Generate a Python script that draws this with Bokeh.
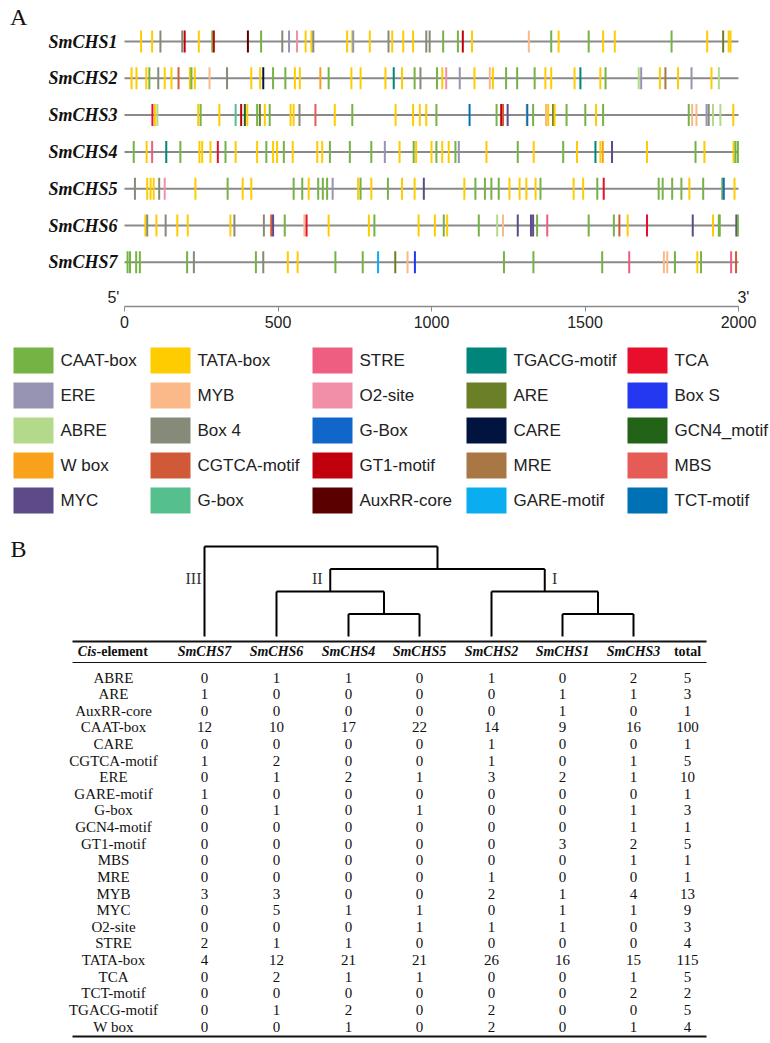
from bokeh.plotting import figure
from bokeh.layouts import column
from bokeh.models import Range1d, FixedTicker, ColumnDataSource
from bokeh.core.properties import value
from bokeh.embed import file_html
from bokeh.resources import INLINE

# ---------------- data ----------------
genes = ["SmCHS1", "SmCHS2", "SmCHS3", "SmCHS4", "SmCHS5", "SmCHS6", "SmCHS7"]
gene_len = [2000, 2000, 2000, 2000, 2000, 2000, 2000]
axis_ticks = [0, 500, 1000, 1500, 2000]

legend_names = ["CAAT-box", "ERE", "ABRE", "W box", "MYC",
                "TATA-box", "MYB", "Box 4", "CGTCA-motif", "G-box",
                "STRE", "O2-site", "G-Box", "GT1-motif", "AuxRR-core",
                "TGACG-motif", "ARE", "CARE", "MRE", "GARE-motif",
                "TCA", "Box S", "GCN4_motif", "MBS", "TCT-motif"]
legend_colors = ["#74B344", "#9694B2", "#B3D98A", "#F9A11B", "#5D4A88",
                 "#FFCC00", "#FBB98A", "#858B78", "#D05A37", "#56BF8E",
                 "#EE5E81", "#F18FA8", "#1166C9", "#C1000E", "#5A0000",
                 "#00857B", "#6B7F26", "#01133F", "#A87744", "#0AADEF",
                 "#E80F2D", "#2338F0", "#236317", "#E55B56", "#0071B5"]

# element codes used in the site lists
CA, ER, AB, WB, MC = "CAAT-box", "ERE", "ABRE", "W box", "MYC"
TA, MB, B4, CG, Gb = "TATA-box", "MYB", "Box 4", "CGTCA-motif", "G-box"
ST, O2, GB, G1, AX = "STRE", "O2-site", "G-Box", "GT1-motif", "AuxRR-core"
TG, AR, CR, MR, GA = "TGACG-motif", "ARE", "CARE", "MRE", "GARE-motif"
TC, BS, GC, MS, TT = "TCA", "Box S", "GCN4_motif", "MBS", "TCT-motif"

chs1_pos = [54, 90, 117, 188, 196, 242, 286, 291, 402, 445, 514, 536, 562, 590, 609, 615, 725, 742, 745, 799,
            860, 872, 908, 940, 983, 994, 1038, 1086, 1102, 1132, 1317, 1390, 1414, 1512, 1559, 1597, 1782,
            1898, 1950, 1968, 1974]
chs1_type = [TA, TA, B4, B4, G1, TA, CA, G1, AX, CA, B4, ER, O2, TA, TA, B4, TA, TA, ER, TA,
             B4, TA, TA, TA, B4, B4, CA, CA, G1, TA, MB, CA, TA, CA, TA, TA, CA, TA, AR, TA, TA]

chs2_pos = [23, 39, 71, 81, 110, 131, 153, 176, 213, 218, 229, 277, 334, 413, 442, 452, 484, 524, 555, 571,
            638, 665, 739, 769, 850, 877, 904, 945, 964, 1018, 1035, 1048, 1092, 1140, 1190, 1200, 1243, 1279,
            1336, 1371, 1390, 1466, 1485, 1550, 1567, 1675, 1683, 1744, 1762, 1803, 1847, 1912, 1936]
chs2_type = [TA, TA, TA, CA, B4, TA, TA, CG, TA, CA, TA, MB, B4, TA, TA, CR, CA, CA, TA, TA,
             WB, CA, TA, TA, TA, TG, TA, CA, B4, CA, TA, O2, ER, TA, MB, TA, CA, CA,
             CA, TA, TA, TA, TG, TA, CA, AB, ER, TA, MR, TA, ER, TA, AB]

chs3_pos = [91, 99, 107, 240, 248, 309, 362, 380, 392, 400, 432, 441, 457, 473, 541, 551, 570, 622, 685, 742,
            883, 940, 962, 983, 1016, 1124, 1212, 1227, 1233, 1248, 1310, 1312, 1331, 1373, 1380, 1396, 1401,
            1440, 1501, 1536, 1559, 1838, 1849, 1863, 1896, 1903, 1917, 1941, 1983]
chs3_type = [TC, TA, AB, TA, CA, TA, Gb, G1, GC, TA, CA, AR, TA, CA, TA, TA, B4, MS, TA, CA,
             TA, TA, TA, TA, CA, TT, CA, G1, CG, MC, MB, TT, CA, MB, TA, AR, TA,
             CA, CA, TA, CA, CA, MB, MB, ER, B4, AB, AB, TA]

chs4_pos = [30, 72, 90, 136, 182, 244, 253, 280, 304, 329, 362, 432, 462, 484, 497, 519, 548, 628, 644, 669,
            734, 804, 848, 896, 942, 950, 1000, 1016, 1035, 1056, 1078, 1089, 1179, 1281, 1333, 1429, 1474,
            1534, 1550, 1558, 1588, 1702, 1860, 1889, 1984, 1990, 1998]
chs4_type = [CA, TA, ST, TG, CA, TA, TA, TA, TC, CA, TA, TA, CA, TA, TA, CA, TA, TA, TA, CA,
             CA, CA, ER, TA, CA, TA, TA, CA, TA, TA, CA, ER, TA, CA, TA, CA, TA,
             TG, TA, WB, MC, TA, CA, TA, TA, CA, CA]

chs5_pos = [34, 74, 85, 95, 113, 131, 231, 336, 385, 413, 551, 579, 600, 631, 646, 660, 678, 761, 769, 804,
            858, 904, 945, 975, 1107, 1143, 1174, 1195, 1219, 1254, 1287, 1309, 1339, 1355, 1463, 1494, 1540,
            1561, 1740, 1753, 1784, 1814, 1840, 1885, 1947, 1952, 1987]
chs5_type = [B4, TA, TA, TA, B4, O2, TA, CA, TA, TA, CA, CA, TA, CA, CA, CA, ER, TA, CA, TA,
             CA, TA, TA, MC, TA, CA, CA, CA, CA, TA, TA, TA, TA, CA, TA, TA, CA,
             TC, CA, CA, CA, CA, TA, CA, CA, GB, TA]

chs6_pos = [68, 74, 104, 134, 172, 206, 345, 358, 454, 478, 484, 522, 586, 593, 665, 796, 814, 958, 1011, 1040,
            1051, 1154, 1214, 1233, 1281, 1324, 1331, 1344, 1377, 1512, 1594, 1612, 1639, 1702, 1851, 1917,
            1936, 1939, 1993, 1998]
chs6_type = [TA, B4, TA, B4, TA, TA, TA, B4, B4, CG, MC, CA, MB, TC, TA, TA, CA, TA, TA, CA,
             TA, CA, AB, MB, MC, MC, MC, CA, ST, CA, CA, CG, TA, TC, MC, TA,
             CA, CA, MC, CA]

chs7_pos = [10, 18, 38, 50, 204, 226, 428, 452, 532, 564, 687, 776, 826, 882, 922, 946, 1236, 1332, 1556, 1644,
            1757, 1768, 1793, 1866, 1878, 1976, 1992]
chs7_type = [CA, CA, CA, CA, CA, B4, CA, B4, TA, TA, CA, CA, GA, AR, MB, BS, CA, CA, CA, ST,
             MB, MB, CA, TA, CA, ST, CG]

# table (panel B)
tbl_rows = ["ABRE", "ARE", "AuxRR-core", "CAAT-box", "CARE", "CGTCA-motif", "ERE", "GARE-motif", "G-box",
            "GCN4-motif", "GT1-motif", "MBS", "MRE", "MYB", "MYC", "O2-site", "STRE", "TATA-box", "TCA",
            "TCT-motif", "TGACG-motif", "W box"]
tbl_cols = ["SmCHS7", "SmCHS6", "SmCHS4", "SmCHS5", "SmCHS2", "SmCHS1", "SmCHS3"]
tbl_chs7 = [0, 1, 0, 12, 0, 1, 0, 1, 0, 0, 0, 0, 0, 3, 0, 0, 2, 4, 0, 0, 0, 0]
tbl_chs6 = [1, 0, 0, 10, 0, 2, 1, 0, 1, 0, 0, 0, 0, 3, 5, 0, 1, 12, 2, 0, 1, 0]
tbl_chs4 = [1, 0, 0, 17, 0, 0, 2, 0, 0, 0, 0, 0, 0, 0, 1, 0, 1, 21, 1, 0, 2, 1]
tbl_chs5 = [0, 0, 0, 22, 0, 0, 1, 0, 1, 0, 0, 0, 0, 0, 1, 1, 0, 21, 1, 0, 0, 0]
tbl_chs2 = [1, 0, 0, 14, 1, 1, 3, 0, 0, 0, 0, 0, 1, 2, 0, 1, 0, 26, 0, 0, 2, 2]
tbl_chs1 = [0, 1, 1, 9, 0, 0, 2, 0, 0, 0, 3, 0, 0, 1, 1, 1, 0, 16, 0, 0, 0, 0]
tbl_chs3 = [2, 1, 0, 16, 0, 1, 1, 0, 1, 1, 2, 1, 0, 4, 1, 0, 0, 15, 1, 2, 0, 1]
tbl_total = [5, 3, 1, 100, 1, 5, 10, 1, 3, 1, 5, 1, 1, 13, 9, 3, 4, 115, 5, 2, 5, 4]

# dendrogram merges: (left, right, height, node name)
dendro = [("SmCHS4", "SmCHS5", 1, "n1"),
          ("SmCHS1", "SmCHS3", 1, "n2"),
          ("SmCHS6", "n1", 2, "II"),
          ("SmCHS2", "n2", 2, "I"),
          ("II", "I", 3, "n5"),
          ("SmCHS7", "n5", 4, "root")]

# ---------------- panel A ----------------
SERIF = value("Liberation Serif")
SANS = value("Liberation Sans")
color_of = dict(zip(legend_names, legend_colors))

row_y = [41 + i * 36.8 for i in range(len(genes))]
site_pos = [chs1_pos, chs2_pos, chs3_pos, chs4_pos, chs5_pos, chs6_pos, chs7_pos]
site_type = [chs1_type, chs2_type, chs3_type, chs4_type, chs5_type, chs6_type, chs7_type]

mx, my0, my1, mc = [], [], [], []
for ry, poss, typs in zip(row_y, site_pos, site_type):
    for p_, t_ in zip(poss, typs):
        mx.append(p_)
        my0.append(ry - 11)
        my1.append(ry + 11)
        mc.append(color_of[t_])
marks = ColumnDataSource(dict(x=mx, y0=my0, y1=my1, c=mc))

BP_PER_PX = 2000 / 614.0
fa = figure(width=770, height=341,
            x_range=Range1d(-124 * BP_PER_PX, (770 - 124) * BP_PER_PX), y_range=Range1d(306, 0),
            output_backend="svg", toolbar_location=None, y_axis_location=None, title=None,
            min_border_left=0, min_border_right=0, min_border_top=0, min_border_bottom=35,
            outline_line_color=None)
fa.grid.visible = False
fa.segment(x0=[0] * len(genes), x1=gene_len, y0=row_y, y1=row_y, line_color="#8a8a8a", line_width=2)
fa.segment(x0="x", y0="y0", x1="x", y1="y1", line_color="c", line_width=2, source=marks)
fa.text(x=[-23] * len(genes), y=row_y, text=genes, text_align="right", text_baseline="middle",
        text_font=SERIF, text_font_style="bold italic", text_font_size=value("18px"), text_color="#111111")
fa.text(x=[-345], y=[16], text=["A"], text_align="center", text_baseline="middle",
        text_font=SERIF, text_font_size=value("24px"), text_color="#111111")
fa.text(x=[-36, 2016], y=[297, 297], text=["5'", "3'"], text_align="center", text_baseline="middle",
        text_font=SANS, text_font_size=value("16px"), text_color="#222222")

ax = fa.xaxis[0]
ax.bounds = (0, 2000)
ax.ticker = FixedTicker(ticks=axis_ticks)
ax.axis_line_color = "#8a8a8a"
ax.axis_line_width = 1.5
ax.major_tick_line_color = "#8a8a8a"
ax.major_tick_in = 0
ax.major_tick_out = 5
ax.minor_tick_line_color = None
ax.major_label_standoff = 4
ax.major_label_text_font = "Liberation Sans"
ax.major_label_text_font_size = "16px"
ax.major_label_text_color = "#222222"

# ---------------- legend + panel B ----------------
fb = figure(width=770, height=702, x_range=Range1d(0, 770), y_range=Range1d(1043, 341),
            output_backend="svg", toolbar_location=None, x_axis_location=None, y_axis_location=None,
            title=None, min_border=0, outline_line_color=None)
fb.grid.visible = False

col_x0 = [13, 150, 312, 466, 627]
lx, ly, ltx = [], [], []
for i, nm in enumerate(legend_names):
    c_, r_ = divmod(i, 5)
    lx.append(col_x0[c_] + 20)
    ltx.append(col_x0[c_] + 47)
    ly.append(360 + r_ * 35)
fb.rect(x=lx, y=ly, width=40, height=26, fill_color=legend_colors, line_color=None)
fb.text(x=ltx, y=ly, text=legend_names, text_align="left", text_baseline="middle",
        text_font=SANS, text_font_size=value("17px"), text_color="#222222")

fb.text(x=[18], y=[548], text=["B"], text_align="center", text_baseline="middle",
        text_font=SERIF, text_font_size=value("24px"), text_color="#111111")

# table geometry
label_x = 113
col_x = [204, 276, 348, 419, 491, 562, 633]
total_x = 687
head_y = 651
row0_y, row_dy = 677, 16.62
tbl_y = [row0_y + i * row_dy for i in range(len(tbl_rows))]

fb.segment(x0=[72, 72, 72], x1=[706, 706, 706], y0=[641, 662, 1036], y1=[641, 662, 1036],
           line_color="#111111", line_width=[1.8, 1.0, 2.0])

fb.text(x=[96], y=[head_y], text=["Cis"], text_align="right", text_baseline="middle",
        text_font=SERIF, text_font_style="bold italic", text_font_size=value("14px"), text_color="#111111")
fb.text(x=[96], y=[head_y], text=["-element"], text_align="left", text_baseline="middle",
        text_font=SERIF, text_font_style="bold", text_font_size=value("14px"), text_color="#111111")
fb.text(x=col_x, y=[head_y] * len(col_x), text=tbl_cols, text_align="center", text_baseline="middle",
        text_font=SERIF, text_font_style="bold italic", text_font_size=value("14px"), text_color="#111111")
fb.text(x=[total_x], y=[head_y], text=["total"], text_align="center", text_baseline="middle",
        text_font=SERIF, text_font_style="bold", text_font_size=value("14px"), text_color="#111111")

fb.text(x=[label_x] * len(tbl_rows), y=tbl_y, text=tbl_rows, text_align="center", text_baseline="middle",
        text_font=SERIF, text_font_size=value("15px"), text_color="#111111")
vx, vy, vt = [], [], []
for cx, colvals in zip(col_x + [total_x],
                       [tbl_chs7, tbl_chs6, tbl_chs4, tbl_chs5, tbl_chs2, tbl_chs1, tbl_chs3, tbl_total]):
    for yy, v in zip(tbl_y, colvals):
        vx.append(cx)
        vy.append(yy)
        vt.append(str(v))
fb.text(x=vx, y=vy, text=vt, text_align="center", text_baseline="middle",
        text_font=SERIF, text_font_size=value("15px"), text_color="#111111")

# dendrogram
leaf_base = 636
lvl = 22.5
node_x = dict(zip(tbl_cols, col_x))
node_h = {g: 0 for g in tbl_cols}
hx0, hx1, hy = [], [], []
vx0, vy0, vy1 = [], [], []
for left, right, h, name in dendro:
    y_m = leaf_base - h * lvl
    xl, xr = node_x[left], node_x[right]
    hx0.append(xl); hx1.append(xr); hy.append(y_m)
    for ch in (left, right):
        vx0.append(node_x[ch]); vy0.append(leaf_base - node_h[ch] * lvl); vy1.append(y_m)
    node_x[name] = (xl + xr) / 2
    node_h[name] = h
fb.segment(x0=hx0, x1=hx1, y0=hy, y1=hy, line_color="#000000", line_width=2)
fb.segment(x0=vx0, x1=vx0, y0=vy0, y1=vy1, line_color="#000000", line_width=2)

lab_y = leaf_base - 3 * lvl + 9
fb.text(x=[node_x["SmCHS7"] - 11, node_x["II"] - 13, node_x["I"] + 10], y=[lab_y] * 3,
        text=["III", "II", "I"], text_align="center", text_baseline="middle",
        text_font=SERIF, text_font_size=value("16px"), text_color="#333333")

p = column(fa, fb)
open("out.html", "w").write(file_html(p, INLINE))
